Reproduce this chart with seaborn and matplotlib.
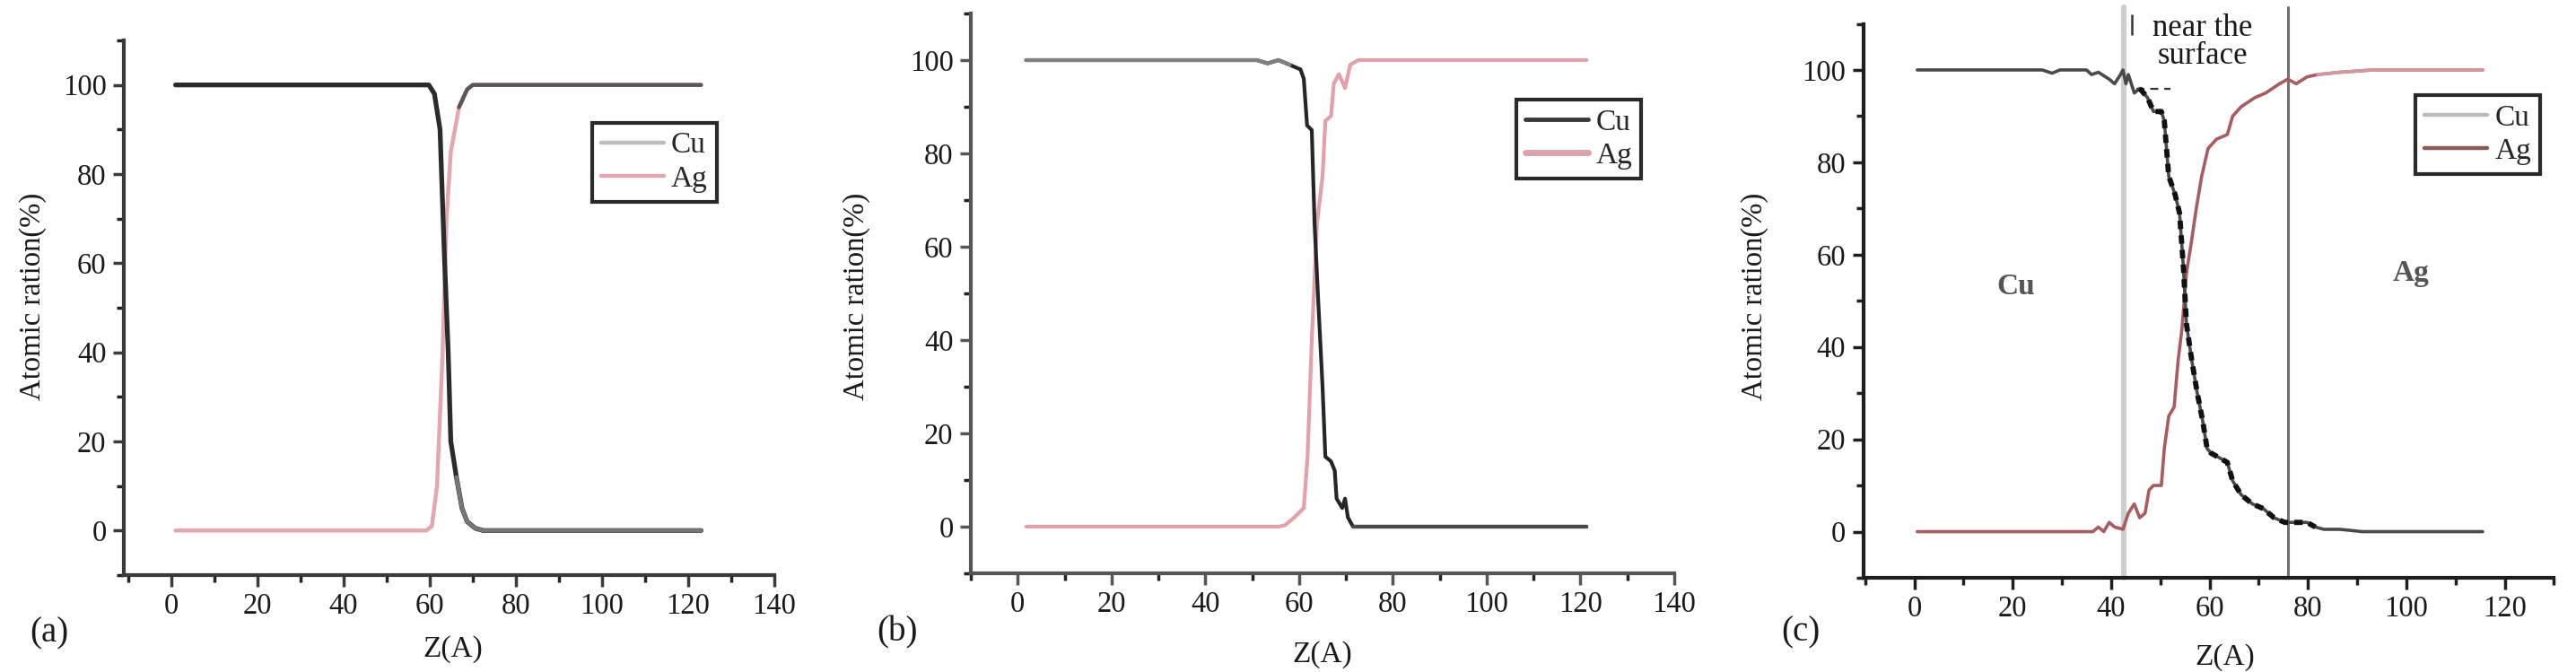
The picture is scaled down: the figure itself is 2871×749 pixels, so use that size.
import numpy as np
import pandas as pd
import matplotlib
matplotlib.use("Agg")
import matplotlib.pyplot as plt
from matplotlib.ticker import MultipleLocator
from matplotlib.lines import Line2D
import seaborn as sns

# ---------------- data ----------------
# panel (a)
za_cu = [1, 10, 20, 30, 40, 50, 59.8, 61.1, 62.4, 63.4, 64.3, 64.9, 66.2, 67.5, 68.7, 70.6, 72.5, 80, 100, 123]
cu_a = [100, 100, 100, 100, 100, 100, 100, 98, 90, 62, 40, 20, 12, 5, 2, 0.5, 0, 0, 0, 0]
za_ag = [1, 10, 20, 30, 40, 50, 59.2, 60.5, 61.7, 63.0, 63.9, 64.9, 66.8, 68.7, 70.0, 80, 100, 123]
ag_a = [0, 0, 0, 0, 0, 0, 0, 1, 10, 40, 70, 85, 95, 99, 100, 100, 100, 100]

# panel (b)
zb_cu = [1.8, 20, 40, 51, 53.3, 55.6, 58, 60.3, 61, 61.7, 62.7, 63.3, 64, 65, 65.6, 66.8, 67.6, 68,
         69.2, 69.8, 70.4, 71.5, 80, 100, 121.3]
cu_b = [100, 100, 100, 100, 99.3, 100, 99, 98, 96, 86, 85, 65, 50, 30, 15, 14, 12, 6,
        4, 6, 2, 0, 0, 0, 0]
zb_ag = [1.8, 20, 40, 55.6, 57, 59, 61, 61.8, 62.7, 63.8, 65, 65.6, 66.8, 67.4, 68.5, 69.8,
         70.9, 72.6, 80, 100, 121.3]
ag_b = [0, 0, 0, 0, 0.3, 2, 4, 15, 40, 65, 75, 87, 88, 95, 97, 94,
        99, 100, 100, 100, 100]

# panel (c)
zc_cu = [0.6, 26, 28, 29.6, 35, 36, 37.4, 39.6, 40.7, 41.9, 42.4, 43, 43.5, 44.7, 45.8, 47.4,
         48.6, 50.2, 50.8, 51.7, 53, 53.9, 54.7, 55.3, 56.4, 57.5, 58.6, 59.5, 60.3, 62, 63.6,
         64.7, 66.4, 68.7, 70.9, 73.1, 75.3, 77.6, 79.8, 81.5, 83.2, 86.5, 91, 100, 115.5]
cu_c = [100, 100, 99.3, 100, 100, 99, 99.5, 98, 97, 99, 100, 97, 99, 95, 96, 94,
        91, 91, 89, 77, 73, 69, 57, 45, 37, 30, 24, 18, 17, 16, 15,
        11, 8, 6, 5, 3, 2, 2, 2, 1, 0.5, 0.5, 0, 0, 0]
zc_ag = [0.6, 20, 36.3, 37.4, 38.5, 39.6, 40.7, 42.4, 43.5, 44.7, 45.8, 46.9, 47.7, 48.6, 50.2,
         50.8, 51.7, 52.8, 53.6, 54.4, 55.3, 56.2, 57.3, 58.4, 59.7, 61.4, 63.6, 64.7, 66.4,
         69.2, 71.4, 74.2, 75.9, 77.6, 79.8, 82, 86.5, 93.2, 100, 115.5]
ag_c = [0, 0, 0, 1, 0, 2, 1, 0.5, 4, 6, 3, 4, 9, 10, 10,
        18, 25, 27, 37, 44, 56, 62, 70, 77, 83, 85, 86, 90, 92,
        94, 95, 97, 98, 97, 98.5, 99, 99.5, 100, 100, 100]

series_names = ["Cu", "Ag"]
x_ticks_ab = [0, 20, 40, 60, 80, 100, 120, 140]
x_ticks_c = [0, 20, 40, 60, 80, 100, 120]
y_ticks = [0, 20, 40, 60, 80, 100]
panel_labels = ["(a)", "(b)", "(c)"]
x_label = "Z(A)"
y_label = "Atomic ration(%)"
region_labels = ["Cu", "Ag"]
surface_label = "near the\nsurface"
boundaries_c = [42.5, 76.0]

# ---------------- style ----------------
sns.set_style("ticks")
plt.rcParams["font.family"] = ["Liberation Serif", "DejaVu Serif"]

W, H = 2871, 749
fig = plt.figure(figsize=(W / 100, H / 100), dpi=100)
fig.patch.set_facecolor("white")

def frac_box(left_px, right_px, top_px, bottom_px):
    return [left_px / W, 1 - bottom_px / H, (right_px - left_px) / W, (bottom_px - top_px) / H]

ax_a = fig.add_axes(frac_box(138, 863, 45, 641))
ax_b = fig.add_axes(frac_box(1082, 1866, 15, 639))
ax_c = fig.add_axes(frac_box(2076.5, 2846.5, 26.5, 644))

TICK_FS = 23.5
spine_col = "#3a3a3a"

def style_axes(ax, xlim, xticks, spine_c=spine_col):
    ax.set_xlim(*xlim)
    ax.set_ylim(-10, 110)
    ax.set_xticks(xticks)
    ax.set_yticks(y_ticks)
    ax.xaxis.set_minor_locator(MultipleLocator(10))
    ax.yaxis.set_minor_locator(MultipleLocator(10))
    for s in ["top", "right"]:
        ax.spines[s].set_visible(False)
    for s in ["left", "bottom"]:
        ax.spines[s].set_color(spine_c)
        ax.spines[s].set_linewidth(3.0)
    ax.tick_params(which="major", length=9, width=2.5, color=spine_c, labelsize=TICK_FS,
                   labelcolor="#1a1a1a", pad=5)
    ax.tick_params(which="minor", length=6, width=2.5, color="#222222")
    ax.set_xlabel("")
    ax.set_ylabel("")
    ax.set_facecolor("white")

def draw(ax, z, v, color, lw, zorder=3, ls="-"):
    df = pd.DataFrame({"z": z, "v": v})
    sns.lineplot(data=df, x="z", y="v", ax=ax, color=color, lw=lw, sort=False,
                 estimator=None, legend=False, zorder=zorder, linestyle=ls)

def draw_part(ax, z, v, lo, hi, color, lw, zorder=4, ls="-"):
    z = np.asarray(z, float)
    v = np.asarray(v, float)
    m = (z >= lo) & (z <= hi)
    df = pd.DataFrame({"z": z[m], "v": v[m]})
    sns.lineplot(data=df, x="z", y="v", ax=ax, color=color, lw=lw, sort=False,
                 estimator=None, legend=False, zorder=zorder, linestyle=ls)

def legend(ax, colors, anchor, lws=(3.2, 3.2)):
    handles = [Line2D([], [], color=c, lw=lw) for c, lw in zip(colors, lws)]
    leg = ax.legend(handles, series_names, loc="upper right", bbox_to_anchor=anchor,
                    bbox_transform=ax.transData, borderaxespad=0, fontsize=24,
                    handlelength=2.1, handletextpad=0.25, borderpad=0.3,
                    labelspacing=0.2, fancybox=False, framealpha=1)
    fr = leg.get_frame()
    fr.set_edgecolor("#2a2a2a")
    fr.set_linewidth(3.0)
    return leg

# ---- panel a ----
draw(ax_a, za_ag, ag_a, "#e4a6b0", 3.2)
draw_part(ax_a, za_ag, ag_a, 66, 130, "#5c5656", 3.2)
draw(ax_a, za_cu, cu_a, "#2b2b2b", 3.8)
draw_part(ax_a, za_cu, cu_a, 66, 130, "#777777", 3.2)
style_axes(ax_a, (-11, 140), x_ticks_ab)
legend(ax_a, ["#bdbdbd", "#e4a6b0"], (126.6, 91.5))

# ---- panel b ----
draw(ax_b, zb_ag, ag_b, "#e4a0aa", 3.0)
draw(ax_b, zb_cu, cu_b, "#262626", 3.0)
draw_part(ax_b, zb_cu, cu_b, 0, 58, "#808080", 3.0)
draw_part(ax_b, zb_cu, cu_b, 71, 130, "#4a4a4a", 3.0)
style_axes(ax_b, (-10, 140), x_ticks_ab, spine_c="#555555")
legend(ax_b, ["#3a3a3a", "#dba4ac"], (133, 91.5), lws=(3.5, 5))

# ---- panel c ----
ax_c.axvline(boundaries_c[0], ymin=0, ymax=1.03, color="#cfcfcf", lw=4.5, clip_on=False, zorder=1)
ax_c.axvline(boundaries_c[1], ymin=0, ymax=1.03, color="#707070", lw=2.2, clip_on=False, zorder=1)
draw(ax_c, zc_ag, ag_c, "#a65c60", 2.6)
draw_part(ax_c, zc_ag, ag_c, 80, 130, "#d19aa0", 2.6)
draw(ax_c, zc_cu, cu_c, "#4a4a4a", 2.6)
draw_part(ax_c, zc_cu, cu_c, 45, 82, "#111111", 4.2, zorder=5, ls=(0, (1.6, 1.2)))
style_axes(ax_c, (-10.4, 130), x_ticks_c, spine_c="#1e1e1e")
legend(ax_c, ["#bcbcbc", "#8c5a5a"], (127.2, 94.5))
ax_c.text(58.6, 106.0, surface_label, ha="center", va="center", fontsize=25,
          linespacing=0.95, color="#1a1a1a")
ax_c.vlines(44.2, 107.5, 112, color="#333333", lw=1.8, clip_on=False)
ax_c.hlines(96, 45.2, 52, color="#333333", lw=1.6, linestyles=(0, (4, 3)))
ax_c.text(20.6, 53, region_labels[0], ha="center", va="center", fontsize=24,
          color="#555555", fontweight="bold")
ax_c.text(101, 56, region_labels[1], ha="center", va="center", fontsize=24,
          color="#555555", fontweight="bold")

# ---- texts outside axes ----
def ftext(x, y, s, **kw):
    fig.text(x / W, 1 - y / H, s, **kw)

for x in [37, 955, 1956]:
    ftext(x, 330, y_label, rotation=90, ha="center", va="center", fontsize=23.5, color="#1a1a1a")
for x, y in [(505, 724), (1474, 730), (2480, 733)]:
    ftext(x, y, x_label, ha="center", va="center", fontsize=24, color="#1a1a1a")
for (x, y), s in zip([(55, 706), (1000, 705), (2007, 705)], panel_labels):
    ftext(x, y, s, ha="center", va="center", fontsize=28, color="#1a1a1a")

fig.savefig("out.png", dpi=100, facecolor="white")
